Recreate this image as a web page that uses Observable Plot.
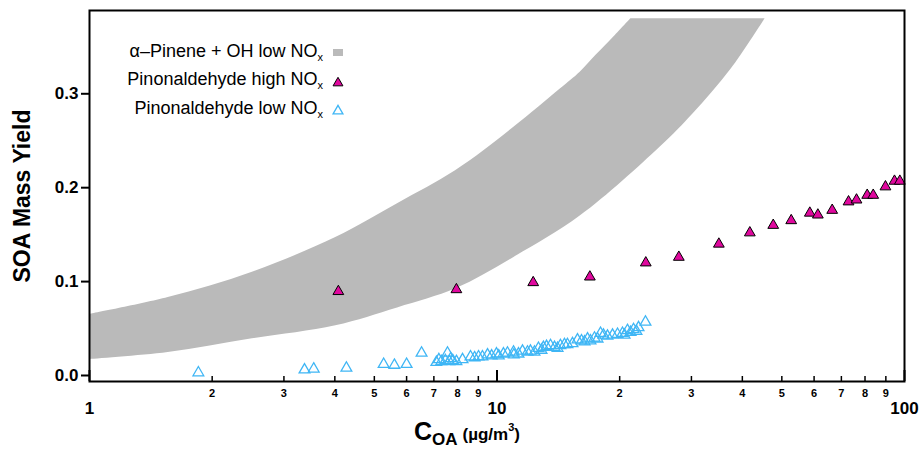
<!DOCTYPE html>
<html>
<head>
<meta charset="utf-8">
<script src="https://cdn.jsdelivr.net/npm/d3@7"></script>
<script src="https://cdn.jsdelivr.net/npm/@observablehq/plot@0.6"></script>
<style>
  body { margin: 0; background: #fff; }
  svg { display: block; }
</style>
</head>
<body>
<div id="chart"></div>
<script>
// ---- Data ----
// alpha-pinene + OH low NOx yield band: lower and upper edges
const bandLowerC = [1, 1.56, 2.51, 4.02, 5.70, 7.95, 10.98, 16.03, 25.2, 30.3, 37.6, 45.5];
const bandLowerY = [0.017, 0.0245, 0.039, 0.053, 0.072, 0.0926, 0.1255, 0.170, 0.2436, 0.2787, 0.3266, 0.38];
const bandUpperC = [1, 1.56, 2.51, 4.02, 5.70, 7.91, 10.98, 14.3, 16.0, 17.5, 19.4, 21.3];
const bandUpperY = [0.065, 0.083, 0.110, 0.147, 0.183, 0.218, 0.264, 0.305, 0.323, 0.341, 0.361, 0.38];

// Pinonaldehyde high NOx
const highNoxC = [4.08, 7.95, 12.27, 16.90, 23.18, 27.94, 35.03, 41.73, 47.63, 52.72, 58.57, 61.29, 66.46, 72.89, 76.25, 81.0, 83.8, 89.8, 94.5, 97.4];
const highNoxY = [0.0895, 0.0915, 0.099, 0.105, 0.120, 0.126, 0.140, 0.152, 0.160, 0.165, 0.173, 0.171, 0.176, 0.185, 0.187, 0.192, 0.192, 0.201, 0.207, 0.207];

// Pinonaldehyde low NOx
const lowNoxC = [1.85, 3.37, 3.55, 4.27, 5.27, 5.60, 6.00, 6.53, 7.10, 7.20, 7.30, 7.47, 7.56, 7.64, 7.70, 7.79, 7.95, 8.23, 8.61, 8.81,
  9.01, 9.21, 9.48, 9.70, 9.97, 10.1, 10.37, 10.61, 10.98, 11.0, 11.29, 11.55, 11.88, 12.08, 12.36, 12.64, 12.86, 13.00, 13.23, 13.53,
  13.84, 14.08, 14.31, 14.64, 14.89, 15.32, 15.76, 16.12, 16.40, 16.68, 16.96, 17.35, 17.65, 17.95, 18.25, 18.67, 19.21, 19.76, 20.32, 20.56,
  20.90, 21.27, 21.63, 21.99, 22.25, 23.14];
const lowNoxY = [0.003, 0.006, 0.007, 0.008, 0.012, 0.011, 0.012, 0.024, 0.014, 0.017, 0.015, 0.016, 0.024, 0.015, 0.018, 0.016, 0.015, 0.017, 0.020, 0.019,
  0.020, 0.020, 0.022, 0.021, 0.023, 0.021, 0.023, 0.024, 0.025, 0.022, 0.023, 0.026, 0.025, 0.026, 0.025, 0.029, 0.027, 0.030, 0.031, 0.032,
  0.030, 0.029, 0.032, 0.033, 0.033, 0.034, 0.038, 0.037, 0.036, 0.039, 0.037, 0.040, 0.039, 0.045, 0.043, 0.042, 0.043, 0.044, 0.045, 0.043,
  0.048, 0.046, 0.049, 0.047, 0.051, 0.057];

// Ticks
const xMajorTicks = [1, 10, 100];
const xMinorTicks = [2, 3, 4, 5, 6, 7, 8, 9, 20, 30, 40, 50, 60, 70, 80, 90];
const xMinorLabels = ["2", "3", "4", "5", "6", "7", "8", "9", "2", "3", "4", "5", "6", "7", "8", "9"];
const yTicks = [0, 0.1, 0.2, 0.3];

// Legend labels
const legendLabels = ["α–Pinene + OH low NO", "Pinonaldehyde high NO", "Pinonaldehyde low NO"];

// ---- Tables built from arrays ----
const band = bandLowerC.map((c, i) => ({lx: c, ly: bandLowerY[i], ux: bandUpperC[i], uy: bandUpperY[i]}));
const high = highNoxC.map((c, i) => ({c, y: highNoxY[i]}));
const low = lowNoxC.map((c, i) => ({c, y: lowNoxY[i]}));
const minorLab = xMinorTicks.map((c, i) => ({c, t: xMinorLabels[i]}));

const FONT = "'Liberation Sans', Arial, Helvetica, sans-serif";
const GRAY = "#bababa", MAGENTA = "#e0089e", BLUE = "#3fb6f5";
const W = 919, H = 450, mL = 89, mR = 15, mT = 10, mB = 69;
const plotH = H - mT - mB;

const chart = Plot.plot({
  width: W, height: H,
  marginLeft: mL, marginRight: mR, marginTop: mT, marginBottom: mB,
  style: {fontFamily: FONT, color: "black", background: "white"},
  x: {type: "log", domain: [1, 100], axis: null},
  y: {domain: [-0.0064, 0.3887], axis: null},
  marks: [
    Plot.area(band, {x1: "lx", y1: "ly", x2: "ux", y2: "uy", fill: GRAY, curve: "catmull-rom"}),
    Plot.dot(low, {x: "c", y: "y", symbol: "triangle", r: 4, fill: "none", stroke: BLUE, strokeWidth: 1.3}),
    Plot.dot(high, {x: "c", y: "y", symbol: "triangle", r: 4, fill: MAGENTA, stroke: "black", strokeWidth: 1}),
    // inward x ticks
    Plot.ruleX(xMinorTicks, {x: d => d, insetTop: plotH - 5, stroke: "black", strokeWidth: 1.5}),
    Plot.ruleX(xMajorTicks, {x: d => d, insetTop: plotH - 11, stroke: "black", strokeWidth: 2}),
    // x labels
    Plot.text(minorLab, {x: "c", text: "t", frameAnchor: "bottom", lineAnchor: "top", dy: 8, fontSize: 11, fontWeight: "bold"}),
    Plot.text(xMajorTicks, {x: d => d, text: d => String(d), frameAnchor: "bottom", lineAnchor: "top", dy: 20, fontSize: 17, fontWeight: "bold"}),
    // y axis
    Plot.axisY(yTicks, {tickSize: 8, tickPadding: 3, strokeWidth: 2, tickFormat: d => d.toFixed(1), fontSize: 17, fontWeight: "bold", label: null}),
    Plot.text(["SOA Mass Yield"], {frameAnchor: "left", dx: -67, rotate: -90, textAnchor: "middle", fontSize: 23, fontWeight: "bold"}),
    Plot.frame({stroke: "black", strokeWidth: 2})
  ]
});
document.getElementById("chart").appendChild(chart);

const svg = d3.select(chart);

// x-axis title with subscript / superscript
const xt = svg.append("text")
  .attr("x", 467).attr("y", 440)
  .attr("text-anchor", "middle")
  .attr("font-family", FONT).attr("font-weight", "bold").attr("fill", "black");
xt.append("tspan").attr("font-size", 25).text("C");
xt.append("tspan").attr("font-size", 17).attr("dy", 5).text("OA");
xt.append("tspan").attr("font-size", 17).attr("dy", -5).attr("dx", 5).text("(µg/m");
xt.append("tspan").attr("font-size", 11).attr("dy", -9).text("3");
xt.append("tspan").attr("font-size", 17).attr("dy", 9).text(")");

// legend (inside plot, top-left)
const legendY = [57, 85, 114];
const lg = svg.append("g").attr("font-family", FONT).attr("fill", "black");
legendLabels.forEach((lab, i) => {
  const t = lg.append("text").attr("x", 323).attr("y", legendY[i]).attr("text-anchor", "end").attr("font-size", 18);
  t.append("tspan").text(lab);
  t.append("tspan").attr("font-size", 11).attr("dy", 4).text("x");
});
lg.append("rect").attr("x", 333).attr("y", 49).attr("width", 10).attr("height", 7).attr("fill", GRAY);
const tri = d3.symbol(d3.symbolTriangle, 42);
lg.append("path").attr("d", tri()).attr("transform", "translate(338,83)").attr("fill", MAGENTA).attr("stroke", "black").attr("stroke-width", 1);
lg.append("path").attr("d", tri()).attr("transform", "translate(338,111)").attr("fill", "none").attr("stroke", BLUE).attr("stroke-width", 1.3);
</script>
</body>
</html>
